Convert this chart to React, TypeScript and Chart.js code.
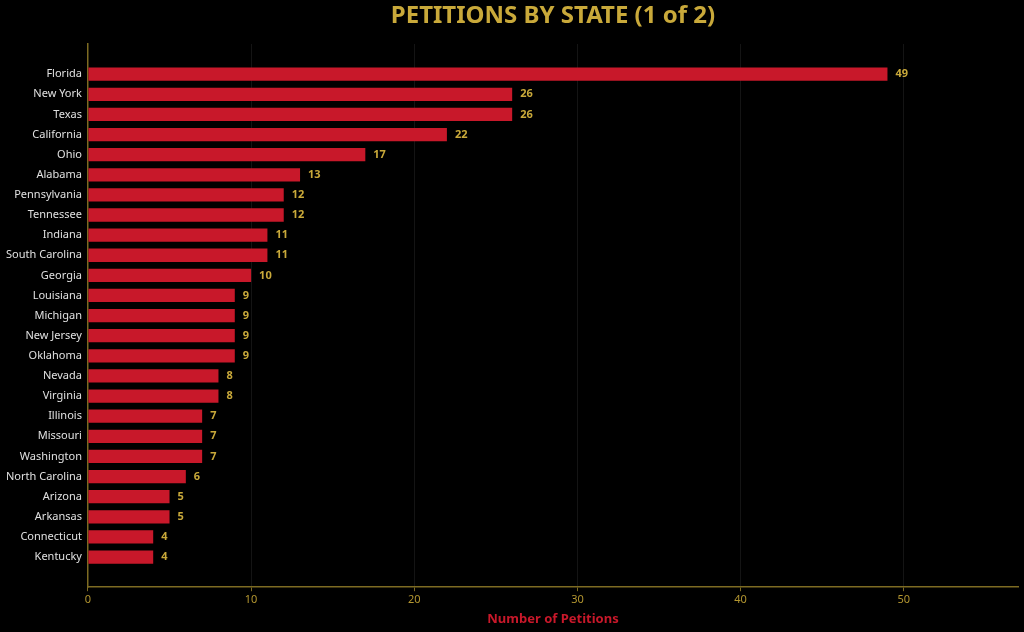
import React, { useEffect, useRef } from "react";
import { Chart, registerables } from "chart.js";

Chart.register(...registerables);

const states = [
  "Florida", "New York", "Texas", "California", "Ohio", "Alabama", "Pennsylvania",
  "Tennessee", "Indiana", "South Carolina", "Georgia", "Louisiana", "Michigan",
  "New Jersey", "Oklahoma", "Nevada", "Virginia", "Illinois", "Missouri",
  "Washington", "North Carolina", "Arizona", "Arkansas", "Connecticut", "Kentucky",
];
const petitions = [49, 26, 26, 22, 17, 13, 12, 12, 11, 11, 10, 9, 9, 9, 9, 8, 8, 7, 7, 7, 6, 5, 5, 4, 4];
const xTicks = [0, 10, 20, 30, 40, 50];
const titleText = "PETITIONS BY STATE (1 of 2)";
const xTitle = "Number of Petitions";

const GOLD = "#c9a93a";
const RED = "#c8182a";
const AXIS = "#7d6b22";
const FONT = "'Noto Sans', sans-serif";

const labels = ["", ...states, ""];
const values: (number | null)[] = [null, ...petitions, null];

const extras = {
  id: "extras",
  afterDatasetsDraw(chart: any) {
    const ctx = chart.ctx;
    const meta = chart.getDatasetMeta(0);
    ctx.save();
    ctx.font = `bold 11px ${FONT}`;
    ctx.fillStyle = GOLD;
    ctx.textAlign = "left";
    ctx.textBaseline = "middle";
    meta.data.forEach((bar: any, i: number) => {
      const v = values[i];
      if (v == null) return;
      ctx.fillText(String(v), bar.x + 8, bar.y);
    });
    ctx.restore();
  },
  afterDraw(chart: any) {
    const ctx = chart.ctx;
    const ca = chart.chartArea;
    ctx.save();
    ctx.font = `bold 24px ${FONT}`;
    ctx.fillStyle = GOLD;
    ctx.textAlign = "center";
    ctx.textBaseline = "middle";
    ctx.fillText(titleText, (ca.left + ca.right) / 2, 16);
    ctx.restore();
  },
};

export default function App() {
  const ref = useRef<HTMLCanvasElement>(null);
  useEffect(() => {
    document.body.style.margin = "0";
    document.body.style.background = "#000";
    const chart = new Chart(ref.current!, {
      type: "bar",
      data: {
        labels,
        datasets: [
          {
            data: values,
            backgroundColor: RED,
            borderWidth: 0,
            categoryPercentage: 1,
            barPercentage: 0.66,
          },
        ],
      },
      options: {
        indexAxis: "y",
        animation: false,
        responsive: false,
        maintainAspectRatio: false,
        layout: { padding: { top: 44, right: 6, left: 0, bottom: 5 } },
        plugins: {
          legend: { display: false },
          title: { display: false },
          tooltip: { enabled: false },
        },
        scales: {
          x: {
            min: 0,
            max: 57,
            afterBuildTicks: (scale: any) => {
              scale.ticks = xTicks.map((v) => ({ value: v }));
            },
            ticks: {
              color: "#b39630",
              font: { family: FONT, size: 11 },
              padding: 2,
            },
            grid: {
              color: "#141414",
              tickColor: AXIS,
              tickLength: 4,
            },
            border: { color: AXIS, width: 1.5 },
            title: {
              display: true,
              text: xTitle,
              color: RED,
              font: { family: FONT, size: 13, weight: "bold" },
              padding: { top: 3, bottom: 0 },
            },
          },
          y: {
            ticks: {
              color: "#e0e0e0",
              font: { family: FONT, size: 11 },
              autoSkip: false,
              padding: 6,
            },
            grid: { display: false, drawTicks: false, tickLength: 0 },
            border: { color: AXIS, width: 1.5 },
          },
        },
      },
      plugins: [extras],
    });
    return () => chart.destroy();
  }, []);
  return (
    <div style={{ background: "#000", width: 1024, height: 632 }}>
      <canvas ref={ref} width={1024} height={632} style={{ display: "block" }} />
    </div>
  );
}
